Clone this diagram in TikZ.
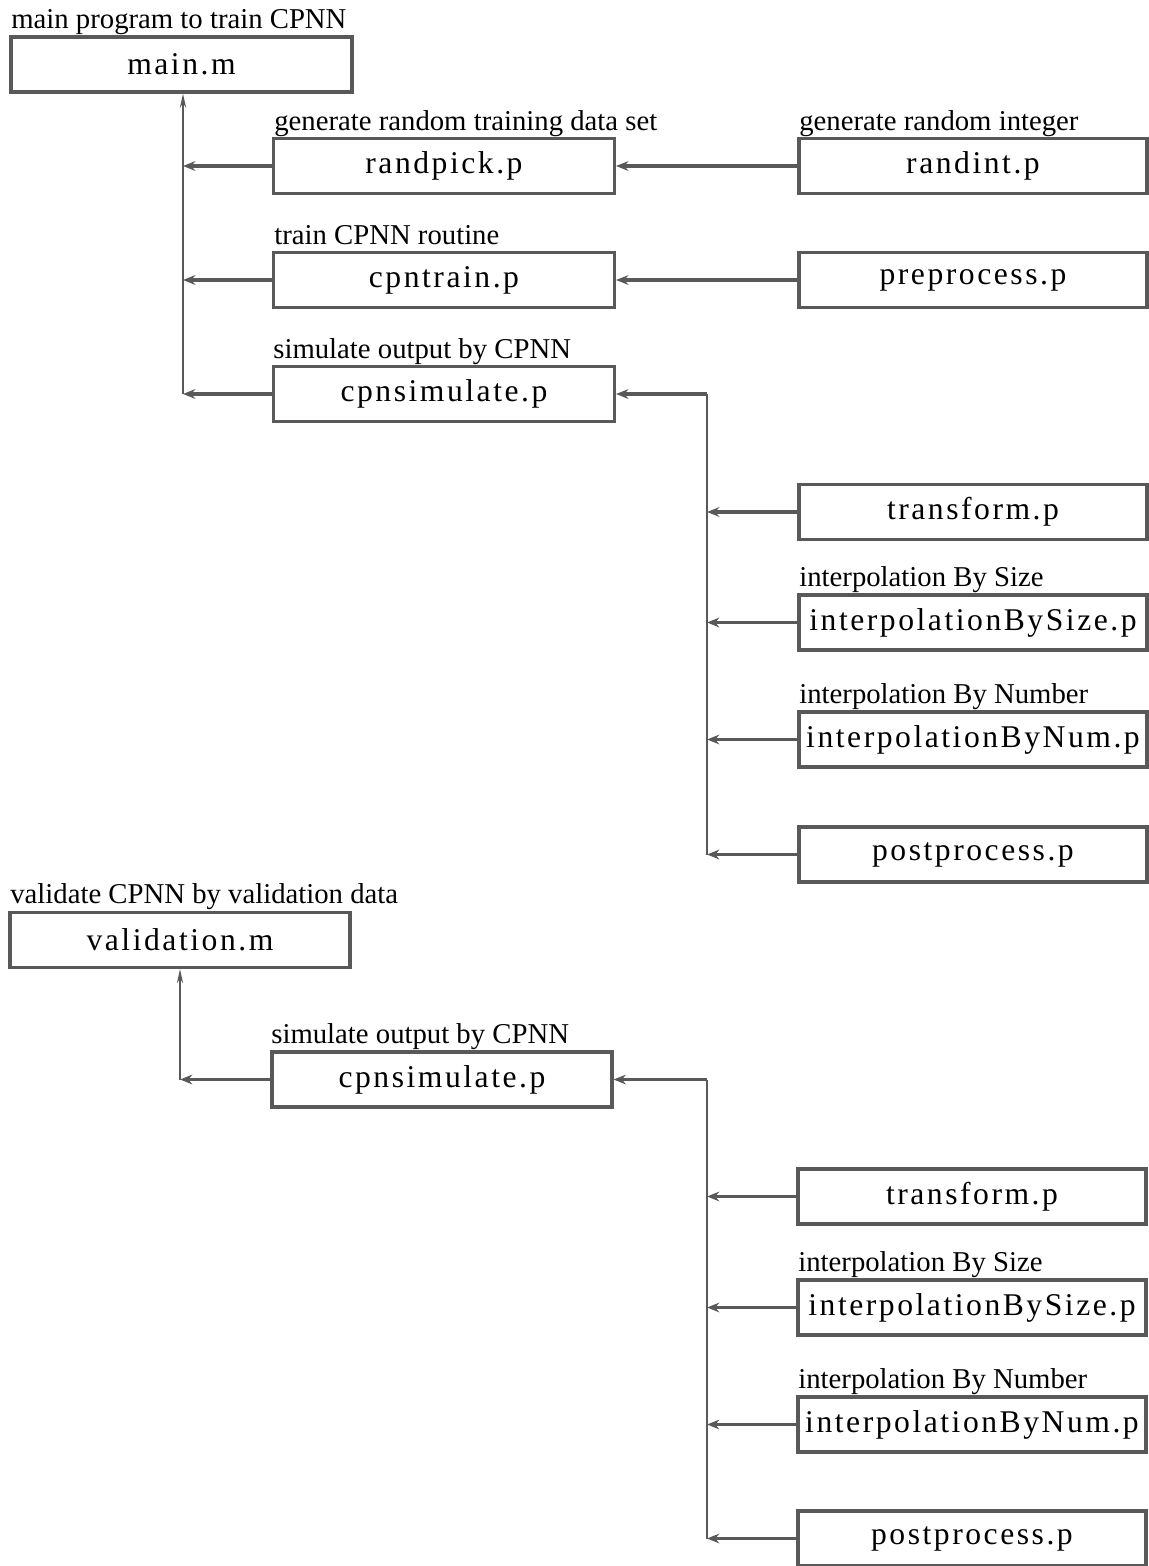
\documentclass[tikz,border=0pt]{standalone}
\usepackage{fontspec}
\setmainfont{Liberation Serif}
\newfontfamily\boxfont[LetterSpace=8]{Liberation Serif}
\usetikzlibrary{arrows.meta}
\definecolor{linegray}{gray}{0.35}
\tikzset{
  filebox/.style={draw=linegray, line width=1.8pt, fill=white, inner sep=0pt,
    minimum height=1.1cm, font=\boxfont\fontsize{18}{20}\selectfont},
  leftbox/.style={filebox, minimum width=6.82cm},
  rightbox/.style={filebox, minimum width=6.96cm},
  caption/.style={anchor=base west, inner sep=0pt, font=\fontsize{16.35}{19}\selectfont},
  feed/.style={draw=linegray, line width=1.8pt,
    -{Stealth[length=7pt,width=5.5pt,fill=linegray!45]}},
  bus/.style={draw=linegray, line width=1.2pt},
  up/.style={bus, -{Stealth[length=8pt,width=3.5pt,fill=linegray!45]}},
}
\begin{document}
\begin{tikzpicture}[x=0.02cm, y=-0.02cm]
\useasboundingbox (0,0) rectangle (1149,1566);

% ---------- training program ----------
\node[leftbox, minimum width=6.82cm] (main) at (181.5,64.5) {main.m};
\node[caption] at (11,28) {main program to train CPNN};

\node[leftbox] (randpick) at (444,166) {randpick.p};
\node[caption] at (274,130) {generate random training data set};
\node[rightbox] (randint) at (973,166) {randint.p};
\node[caption] at (799,130) {generate random integer};

\node[leftbox] (cpntrain) at (444,280) {cpntrain.p};
\node[caption] at (274,244) {train CPNN routine};
\node[rightbox] (pre) at (973,280) {preprocess.p};

\node[leftbox] (sim) at (444,394) {cpnsimulate.p};
\node[caption] at (273,358) {simulate output by CPNN};

\node[rightbox] (trans) at (973,512) {transform.p};
\node[rightbox] (isize) at (973,622.5) {interpolationBySize.p};
\node[caption] at (799,586) {interpolation By Size};
\node[rightbox] (inum) at (973,739.5) {interpolationByNum.p};
\node[caption] at (799,703) {interpolation By Number};
\node[rightbox] (post) at (973,854.5) {postprocess.p};

% buses of the training program
\coordinate (busA) at (183,394);
\coordinate (busB) at (707,854.5);
\draw[up] (busA) -- (busA |- main.south);
\draw[feed] (randpick.west) -- (randpick.west -| busA);
\draw[feed] (cpntrain.west) -- (cpntrain.west -| busA);
\draw[feed] (sim.west) -- (busA);
\draw[feed] (randint.west) -- (randpick.east);
\draw[feed] (pre.west) -- (cpntrain.east);
\draw[bus] (busB) -- (busB |- sim.east);
\draw[feed] (busB |- sim.east) -- (sim.east);
\draw[feed] (trans.west) -- (trans.west -| busB);
\draw[feed] (isize.west) -- (isize.west -| busB);
\draw[feed] (inum.west) -- (inum.west -| busB);
\draw[feed] (post.west) -- (busB);

% ---------- validation program ----------
\node[leftbox, minimum width=6.8cm] (valid) at (180,940) {validation.m};
\node[caption] at (10,903) {validate CPNN by validation data};

\node[leftbox, minimum width=6.8cm] (simv) at (442,1079.5) {cpnsimulate.p};
\node[caption] at (271,1043) {simulate output by CPNN};

\node[rightbox] (transv) at (972,1196.5) {transform.p};
\node[rightbox] (isizev) at (972,1307.5) {interpolationBySize.p};
\node[caption] at (798,1271) {interpolation By Size};
\node[rightbox] (inumv) at (972,1424.5) {interpolationByNum.p};
\node[caption] at (798,1388) {interpolation By Number};
\node[rightbox] (postv) at (972,1538.5) {postprocess.p};

% buses of the validation program
\coordinate (busC) at (180,1079.5);
\coordinate (busD) at (707,1538.5);
\draw[up] (busC) -- (busC |- valid.south);
\draw[feed] (simv.west) -- (busC);
\draw[bus] (busD) -- (busD |- simv.east);
\draw[feed] (busD |- simv.east) -- (simv.east);
\draw[feed] (transv.west) -- (transv.west -| busD);
\draw[feed] (isizev.west) -- (isizev.west -| busD);
\draw[feed] (inumv.west) -- (inumv.west -| busD);
\draw[feed] (postv.west) -- (busD);
\end{tikzpicture}
\end{document}
